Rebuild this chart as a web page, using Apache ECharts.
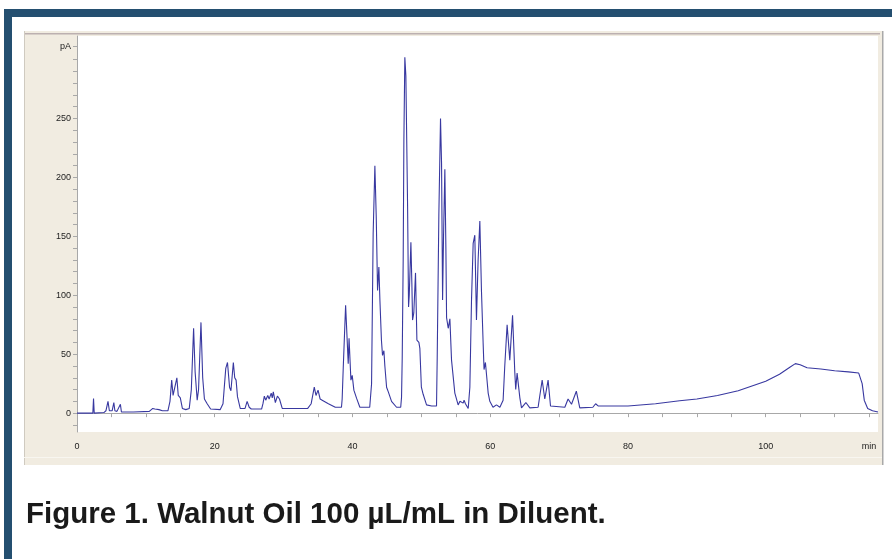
<!DOCTYPE html>
<html>
<head>
<meta charset="utf-8">
<script src="https://cdn.jsdelivr.net/npm/echarts@6/dist/echarts.min.js"></script>
<style>
html,body{margin:0;padding:0;background:#ffffff;}
#chart{width:892px;height:559px;}
</style>
</head>
<body>
<div id="chart"></div>
<script>
// Retention time (min) and detector signal (pA)
const retentionTimes = [
  0, 2.3, 2.4, 2.5, 3.9, 4.2, 4.5, 4.7, 5.1, 5.35, 5.5, 5.8, 6.3, 6.45, 8.2, 8.3, 8.4,
  10.5, 11.0, 11.3, 11.5, 11.9, 12.4, 13.2, 13.5, 13.75, 13.95, 14.2, 14.5, 14.7, 15.0, 15.3,
  15.8, 16.3, 16.6, 16.93, 17.15, 17.45, 17.65, 18.0, 18.25, 18.5, 18.9, 19.4, 20.8, 21.2,
  21.6, 21.85, 22.15, 22.35, 22.7, 22.9, 23.1, 23.3, 23.7, 24.4, 24.7, 25.0, 25.3, 26.8,
  27.0, 27.2, 27.4, 27.7, 27.9, 28.2, 28.35, 28.5, 28.8, 29.1, 29.4, 29.8, 33.5, 34.0,
  34.45, 34.7, 35.0, 35.3, 35.6, 36.5, 37.5, 38.4, 38.5, 38.66, 39.0, 39.38, 39.5, 39.77,
  39.96, 40.2, 40.6, 41.07, 42.5, 42.77, 43.0, 43.25, 43.45, 43.64, 43.83, 43.98, 44.2,
  44.36, 44.56, 44.7, 44.95, 45.2, 45.67, 46.4, 47.0, 47.12, 47.22, 47.36, 47.46, 47.6,
  47.75, 47.85, 48.0, 48.14, 48.24, 48.48, 48.62, 48.72, 48.9, 49.15, 49.35, 49.64, 49.78,
  50.0, 50.26, 50.75, 51.5, 52.2, 52.3, 52.54, 52.78, 52.93, 53.08, 53.22, 53.41, 53.56,
  53.66, 53.9, 54.14, 54.38, 54.86, 55.34, 55.6, 56.07, 56.2, 56.4, 56.8, 57.04, 57.28,
  57.52, 57.76, 58.0, 58.24, 58.49, 58.73, 58.97, 59.1, 59.3, 59.5, 59.7, 59.94, 60.4,
  60.9, 61.4, 61.87, 62.1, 62.45, 62.84, 63.24, 63.57, 63.7, 63.9, 64.3, 64.54, 65.17,
  65.75, 66.95, 67.2, 67.54, 67.92, 68.4, 68.75, 70.83, 71.3, 71.8, 72.5, 73.0, 74.9,
  75.3, 75.7, 80, 84, 87.5, 90, 93, 96, 98, 100, 102, 103.5, 104.3, 105, 106, 108, 110,
  112, 113.5, 114.0, 114.3, 114.8, 115.5, 116.3
];
const signalPA = [
  0, 0, 12.5, 0, 0.5, 2, 10, 2, 2, 9, 2, 1.5, 7.5, 1, 1, 2.5, 1,
  1.5, 4, 3.5, 5, 3, 2, 2, 10, 28, 15, 14, 30, 15, 13, 4,
  3, 4, 20, 72, 35, 11, 20, 77, 30, 12, 8, 3.5, 3, 8,
  38, 43, 22, 19, 43, 30, 28, 14, 4, 4, 10, 5, 3.5, 3.5,
  8, 14.5, 11, 15, 12, 17, 13, 18, 9, 14.5, 12, 4, 4, 8,
  22, 15, 19.5, 12, 11, 8, 5, 5, 12, 39, 91.5, 42, 63.5, 28,
  32, 19.5, 12.5, 5, 5, 25, 152, 210, 166, 104, 124, 96, 62,
  49, 53, 40, 22, 18, 10, 5, 5, 13.5, 47, 130, 231, 302,
  286, 242, 175, 90, 100, 145, 110, 79, 85, 119, 62, 60, 55,
  22, 16, 7, 6, 6, 47, 169, 250, 212, 96, 150, 207, 140,
  81, 72, 80, 45, 17, 7, 10, 8.5, 11, 8, 4, 22, 96,
  144, 151, 79, 130, 163, 103, 59, 37, 43, 30, 17, 10, 5,
  7, 5, 11, 39, 75, 45, 83, 34, 20, 34, 13, 4.5, 9,
  4.5, 5, 15, 28, 12, 28, 6, 5, 12, 7.5, 18.6, 4.5, 5,
  8, 6, 6, 8, 10.5, 12, 15, 19, 23, 27, 33, 39, 42, 41, 38.5, 37.5, 36,
  35, 34, 25, 11, 4, 2, 1
];
// Axis tick positions and labels
const xTickValues = [0,5,10,15,20,25,30,35,40,45,50,55,60,65,70,75,80,85,90,95,100,105,110,115];
const xLabelValues = [0, 20, 40, 60, 80, 100, 115];
const yTickValues = [-10,0,10,20,30,40,50,60,70,80,90,100,110,120,130,140,150,160,170,180,190,200,210,220,230,240,250,260,270,280,290,300,311];
const yLabelValues = [0, 50, 100, 150, 200, 250, 311];
const xUnitLabel = 'min';
const yUnitLabel = 'pA';
const captionText = 'Figure 1. Walnut Oil 100 µL/mL in Diluent.';

const seriesData = retentionTimes.map((t, i) => [t, signalPA[i]]);

const chart = echarts.init(document.getElementById('chart'), null, {renderer: 'canvas'});
const frameBlue = '#244f70';
const axisGray = '#a8a8a8';
const labelFont = {color: '#222222', fontSize: 9, fontFamily: 'Liberation Sans, Arial, sans-serif'};

chart.setOption({
  backgroundColor: '#ffffff',
  animation: false,
  grid: {left: 77, right: 14, top: 36, bottom: 127, containLabel: false},
  graphic: [
    {type: 'rect', z: -20, shape: {x: 4, y: 9, width: 888, height: 8}, style: {fill: frameBlue}},
    {type: 'rect', z: -20, shape: {x: 4, y: 9, width: 8, height: 550}, style: {fill: frameBlue}},
    {type: 'rect', z: -19, shape: {x: 24, y: 31, width: 859, height: 434}, style: {fill: '#f1ece1'}},
    {type: 'rect', z: -18, shape: {x: 24, y: 33, width: 856, height: 1.5}, style: {fill: '#bcb0b0'}},
    {type: 'rect', z: -18, shape: {x: 882, y: 31, width: 1.5, height: 434}, style: {fill: '#a9a9a9'}},
    {type: 'rect', z: -18, shape: {x: 24, y: 31, width: 1, height: 434}, style: {fill: '#cfcac0'}},
    {type: 'rect', z: -18, shape: {x: 24, y: 457, width: 858, height: 1}, style: {fill: '#f8f6f0'}},
    {type: 'rect', z: -17, shape: {x: 77, y: 36, width: 801, height: 396}, style: {fill: '#ffffff'}},
    {type: 'text', z: 10, x: 26, y: 515, style: {text: captionText, fill: '#1a1a1a',
      font: 'bold 29.5px "Liberation Sans", Arial, sans-serif', textVerticalAlign: 'middle'}}
  ],
  xAxis: {
    type: 'value', min: 0, max: 116.3,
    axisLine: {show: true, lineStyle: {color: axisGray, width: 1}},
    axisTick: {show: true, length: 4, customValues: xTickValues, lineStyle: {color: axisGray}},
    axisLabel: Object.assign({show: true, margin: 10, customValues: xLabelValues, showMinLabel: true, showMaxLabel: true,
      formatter: v => (v === 115 ? xUnitLabel : String(v))}, labelFont),
    splitLine: {show: false}
  },
  yAxis: {
    type: 'value', min: -16, max: 320,
    axisLine: {show: true, onZero: false, lineStyle: {color: axisGray, width: 1}},
    axisTick: {show: true, length: 4, customValues: yTickValues, lineStyle: {color: axisGray}},
    axisLabel: Object.assign({show: true, margin: 6, customValues: yLabelValues,
      formatter: v => (v === 311 ? yUnitLabel : String(v))}, labelFont),
    splitLine: {show: false}
  },
  series: [{
    type: 'line', data: seriesData, showSymbol: false, symbol: 'none',
    lineStyle: {color: '#3838a0', width: 1.1}, z: 5, silent: true
  }]
});
</script>
</body>
</html>
